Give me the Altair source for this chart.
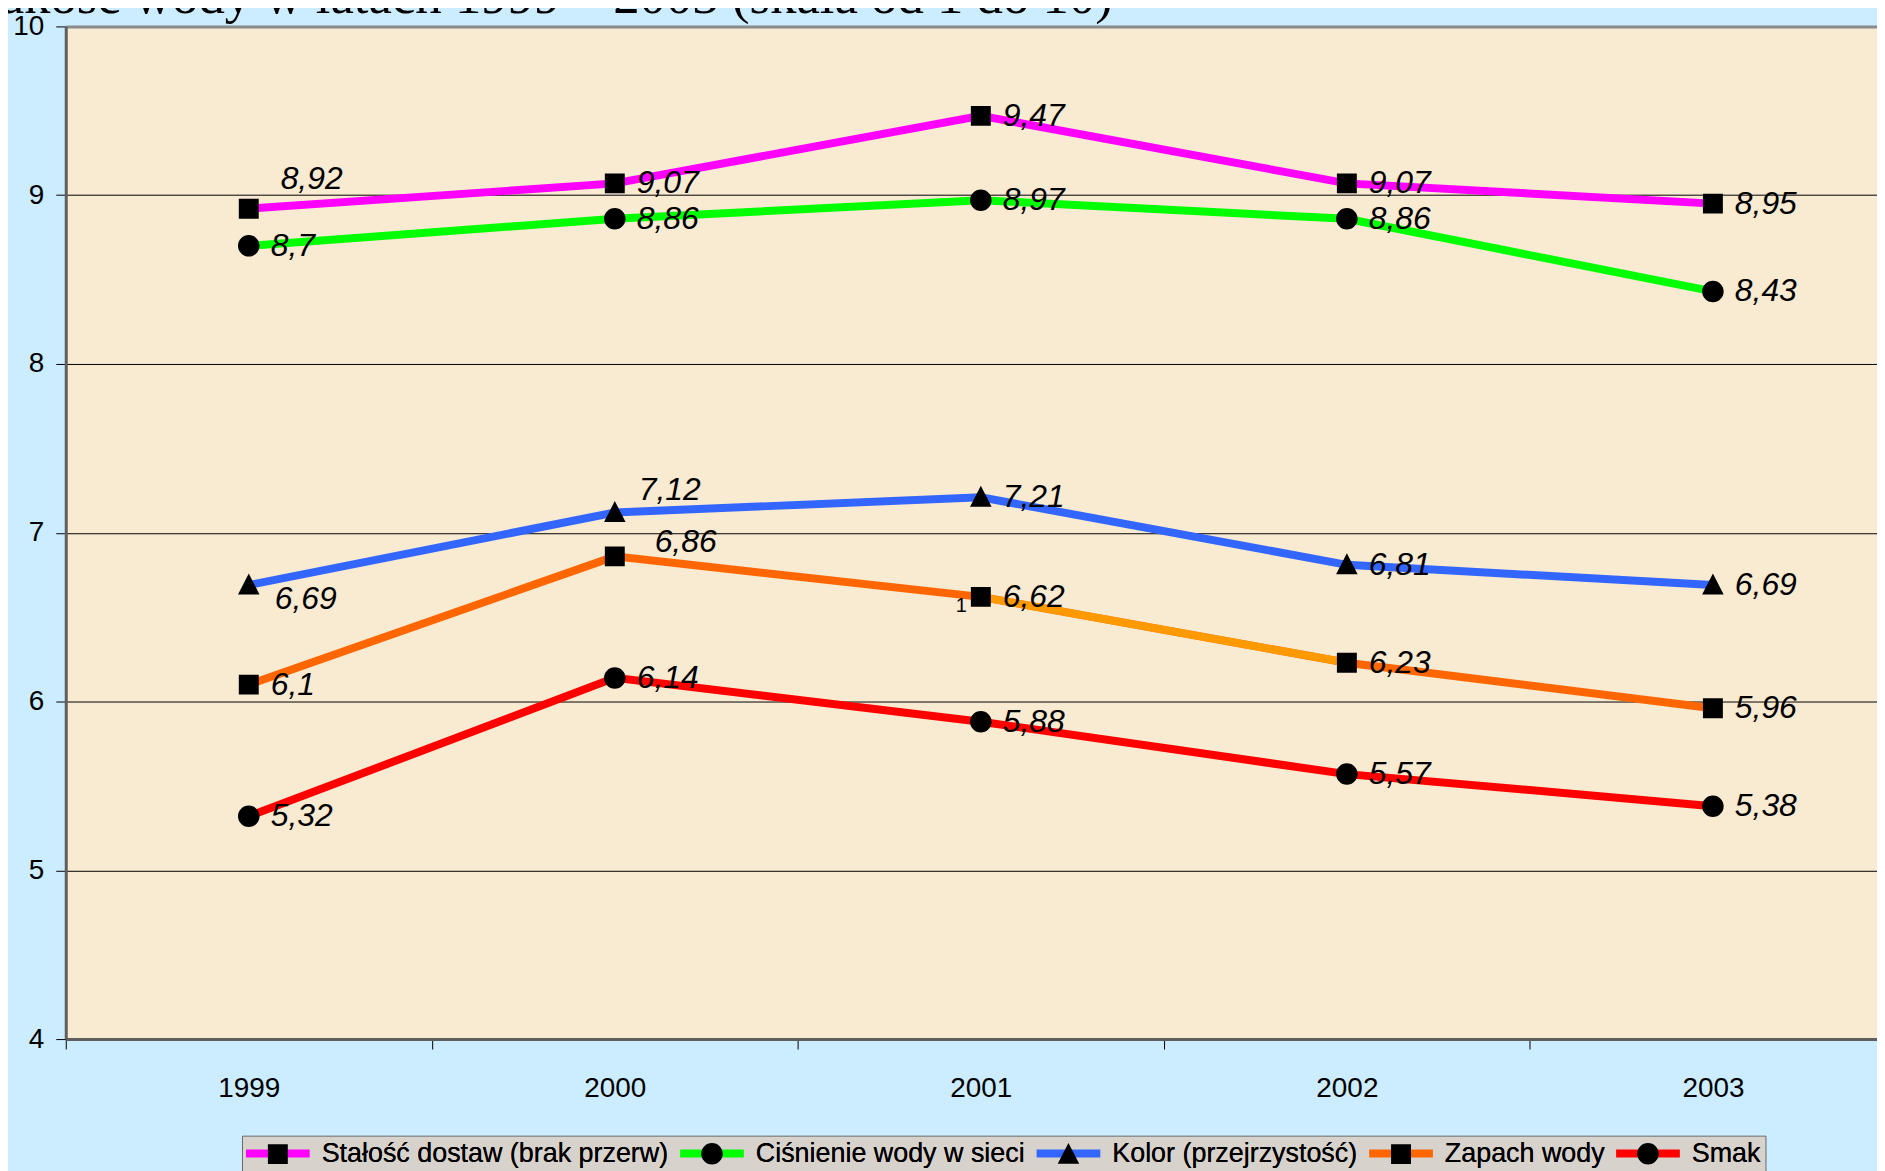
import altair as alt
import pandas as pd

# ---- data ----
years = [1999, 2000, 2001, 2002, 2003]
series_names = [
    "Stałość dostaw (brak przerw)",
    "Ciśnienie wody w sieci",
    "Kolor (przejrzystość)",
    "Zapach wody",
    "Smak",
]
stalosc = [8.92, 9.07, 9.47, 9.07, 8.95]
cisnienie = [8.7, 8.86, 8.97, 8.86, 8.43]
kolor = [6.69, 7.12, 7.21, 6.81, 6.69]
zapach = [6.1, 6.86, 6.62, 6.23, 5.96]
smak = [5.32, 6.14, 5.88, 5.57, 5.38]
y_ticks = [4, 5, 6, 7, 8, 9, 10]
title_text = "Jakość wody w latach 1999 – 2003 (skala od 1 do 10)"

# ---- styles ----
colors = ["#FF00FF", "#00FF00", "#3366FF", "#FF6600", "#FF0000"]
GHOST = "M-3.2,0H3.2"  # zero-area guide so both legends get the same entry bounds
SQUARE = "M-1.0,-1.0H1.0V1.0H-1.0Z" + GHOST
CIRCLE = "M1.08,0A1.08,1.08,0,1,1,-1.08,0A1.08,1.08,0,1,1,1.08,0Z" + GHOST
TRIANGLE = "M0,-1.15L1.08,0.95H-1.08Z" + GHOST
shapes = [SQUARE, CIRCLE, TRIANGLE, SQUARE, CIRCLE]
LEGEND_LINE = "M-3.2,0H3.2"

rows = []
for name, vals in zip(series_names, [stalosc, cisnienie, kolor, zapach, smak]):
    for yr, v in zip(years, vals):
        rows.append({"series": name, "series2": name, "year": yr, "value": v,
                     "label": str(v).replace(".", ",")})
df = pd.DataFrame(rows)

FONT = "Liberation Sans"
PX_PER_YEAR = 367.6
HALF = PX_PER_YEAR / 2
W, H = 1819, 1017
SYM = 400
LINE_W = 8

x_enc = alt.X("year:Q",
              scale=alt.Scale(domain=[1998.5, 1998.5 + W / PX_PER_YEAR], nice=False, zero=False),
              axis=alt.Axis(values=years, format="d", tickOffset=-HALF, labelOffset=HALF,
                            tickSize=10, tickColor="black", tickWidth=1,
                            labelFontSize=28, labelFont=FONT, labelColor="black",
                            labelPadding=26, labelFlush=False, labelOverlap=False,
                            domainColor="#5E5E5E", domainWidth=3, grid=False, title=None))
y_enc = alt.Y("value:Q",
              scale=alt.Scale(domain=[4, 10], nice=False, zero=False),
              axis=alt.Axis(values=y_ticks, tickSize=10, tickColor="black", tickWidth=1,
                            labelFontSize=28, labelFont=FONT, labelColor="black",
                            labelPadding=12, labelFlush=False,
                            domainColor="#5E5E5E", domainWidth=3,
                            grid=True,
                            gridColor={"condition": {"test": "datum.value === 10", "value": "#8A8A8A"},
                                       "value": "black"},
                            gridWidth={"condition": {"test": "datum.value === 10", "value": 3},
                                       "value": 1},
                            title=None))

base = alt.Chart(df).encode(x=x_enc, y=y_enc)

LEG_X, LEG_Y = 177, 1114
common_leg = dict(orient="none", legendX=LEG_X, legendY=LEG_Y, direction="horizontal",
                  title=None, symbolSize=SYM, labelFontSize=27, labelFont=FONT,
                  labelColor="black", labelOffset=30, symbolOffset=18, columnPadding=-5,
                  padding=4, labelLimit=1000, symbolStrokeWidth=8)

lines = base.mark_line(strokeWidth=LINE_W).encode(
    color=alt.Color("series:N", scale=alt.Scale(domain=series_names, range=colors),
                    legend=alt.Legend(symbolType=LEGEND_LINE,
                                      fillColor="#D8D2CC", strokeColor="#6A6A6A", zindex=0,
                                      **common_leg))
)

seg = base.transform_filter(
    "datum.series === 'Zapach wody' && datum.year >= 2001 && datum.year <= 2002"
).mark_line(strokeWidth=LINE_W, color="#FF9900")

points = base.mark_point(filled=True, size=SYM, opacity=1, color="black", strokeWidth=0).encode(
    shape=alt.Shape("series2:N", scale=alt.Scale(domain=series_names, range=shapes),
                    legend=alt.Legend(symbolFillColor="black", symbolStrokeColor="transparent",
                                      zindex=1, **common_leg))
)

txt_style = dict(align="left", baseline="middle", fontSize=32, fontStyle="italic",
                 font=FONT, color="black")

exc = {
    ("Stałość dostaw (brak przerw)", 1999): (32, -30),
    ("Kolor (przejrzystość)", 1999): (26, 14),
    ("Kolor (przejrzystość)", 2000): (24, -23),
    ("Zapach wody", 2000): (40, -14),
}

def cond(name, yr):
    return f"(datum.series === '{name}' && datum.year === {yr})"

not_exc = "!(" + " || ".join(cond(n, y) for (n, y) in exc) + ")"
texts = [base.transform_filter(not_exc).mark_text(dx=22, dy=0, **txt_style).encode(text="label:N")]
for (n, y), (dx, dy) in exc.items():
    texts.append(base.transform_filter(cond(n, y)).mark_text(dx=dx, dy=dy, **txt_style)
                 .encode(text="label:N"))

stray = base.transform_filter(cond("Zapach wody", 2001)).mark_text(
    text="1", align="right", baseline="middle", dx=-14, dy=9, fontSize=20, font=FONT, color="black")

chart = alt.layer(lines, seg, points, *texts, stray).properties(
    width=W, height=H,
    autosize=alt.AutoSizeParams(type="none"),
    padding={"left": 58, "top": 16, "right": 0, "bottom": 130},
    background="#CCECFF",
    title=alt.TitleParams(text=title_text, anchor="start", frame="group",
                          font="Liberation Serif", fontSize=53, fontWeight="normal",
                          color="black", dx=-86, dy=56, offset=2, baseline="alphabetic"),
).resolve_legend(color="independent", shape="independent").configure_view(
    fill="#F9EAD2", stroke="transparent"
)

chart.save("out.html", embed_options={"renderer": "svg", "actions": False})
